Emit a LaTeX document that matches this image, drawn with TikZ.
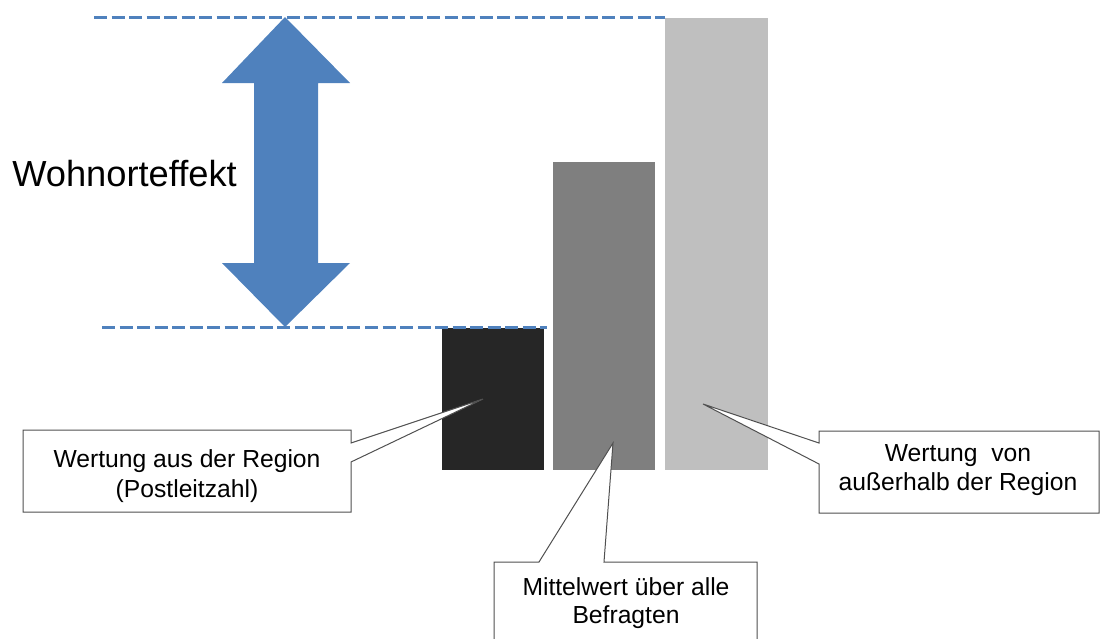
\documentclass[tikz,border=0pt]{standalone}
\usepackage{fontspec}
\setmainfont{Liberation Sans}
\definecolor{effblue}{RGB}{79,129,189}
\definecolor{bardark}{RGB}{38,38,38}
\definecolor{barmid}{RGB}{127,127,127}
\definecolor{barlight}{RGB}{191,191,191}
\definecolor{calloutline}{RGB}{80,80,80}
\tikzset{
  dashline/.style={draw=effblue, line width=2.25pt, dash pattern=on 9.75pt off 3.4pt},
  calloutbox/.style={draw=calloutline, fill=white, line width=0.75pt, line join=miter},
  callouttext/.style={anchor=base, inner sep=0pt, text=black, font=\fontsize{18.5}{22.5}\selectfont},
  bigtext/.style={anchor=base west, inner sep=0pt, text=black, font=\fontsize{27.2}{32}\selectfont}
}
\begin{document}
\begin{tikzpicture}[x=0.75pt,y=-0.75pt]
\useasboundingbox (0,0) rectangle (1101,639);
\clip (0,0) rectangle (1101,639);
% bars
\fill[bardark]  (442,328) rectangle (544,470);
\fill[barmid]   (553,162) rectangle (655,470);
\fill[barlight] (665,18)  rectangle (768,470);
% pointer tips
\coordinate (tipA) at (483,399);
\coordinate (tipB) at (613,443);
\coordinate (tipC) at (703,404);
% dashed reference lines
\coordinate (topL) at (94,17);
\coordinate (topR) at (665,17);
\coordinate (botL) at (102,327);
\coordinate (botR) at (547,327);
\draw[dashline] (topL) -- (topR);
\draw[dashline] (botL) -- (botR);
% double arrow
\fill[effblue] (285,17) -- (350,83) -- (318,83) -- (318,263) -- (350,263) -- (285,327)
  -- (222,263) -- (254,263) -- (254,83) -- (222,83) -- cycle;
\node[bigtext] (effekt) at (12,186) {Wohnorteffekt};
% callouts
\draw[calloutbox] (23,430) -- (351,430) -- (351,443) -- (tipA) -- (351,462) -- (351,512) -- (23,512) -- cycle;
\draw[calloutbox] (494,562) -- (539,562) -- (tipB) -- (604,562) -- (757,562) -- (757,660) -- (494,660) -- cycle;
\draw[calloutbox] (819,431) -- (1099,431) -- (1099,513) -- (819,513) -- (819,464) -- (tipC) -- (819,443) -- cycle;
\node[callouttext] (textA) at (187,467) {\begin{tabular}[t]{@{}c@{}}Wertung aus der Region\\(Postleitzahl)\end{tabular}};
\node[callouttext] (textB) at (626,595) {\def\arraystretch{0.94}\begin{tabular}[t]{@{}c@{}}Mittelwert über alle\\Befragten\end{tabular}};
\node[callouttext] (textC) at (958,461) {\def\arraystretch{0.97}\begin{tabular}[t]{@{}c@{}}Wertung\ \ von\\außerhalb der Region\end{tabular}};
\end{tikzpicture}
\end{document}
